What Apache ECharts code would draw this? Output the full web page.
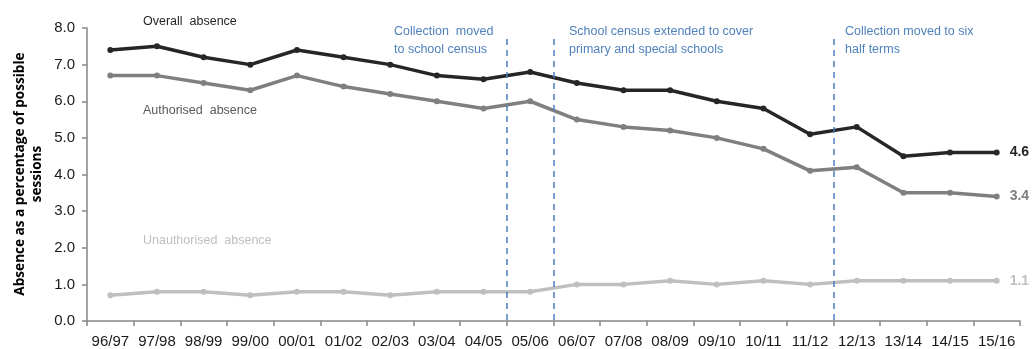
<!DOCTYPE html>
<html><head><meta charset="utf-8">
<script src="https://cdn.jsdelivr.net/npm/echarts@6/dist/echarts.min.js"></script>
<style>html,body{margin:0;padding:0;background:#fff}#c{width:1032px;height:349px}</style>
</head><body><div id="c"></div>
<script>
const categories = ['96/97','97/98','98/99','99/00','00/01','01/02','02/03','03/04','04/05','05/06','06/07','07/08','08/09','09/10','10/11','11/12','12/13','13/14','14/15','15/16'];
const overall = [7.4,7.5,7.2,7.0,7.4,7.2,7.0,6.7,6.6,6.8,6.5,6.3,6.3,6.0,5.8,5.1,5.3,4.5,4.6,4.6];
const authorised = [6.7,6.7,6.5,6.3,6.7,6.4,6.2,6.0,5.8,6.0,5.5,5.3,5.2,5.0,4.7,4.1,4.2,3.5,3.5,3.4];
const unauthorised = [0.7,0.8,0.8,0.7,0.8,0.8,0.7,0.8,0.8,0.8,1.0,1.0,1.1,1.0,1.1,1.0,1.1,1.1,1.1,1.1];
const breakPositions = [9,10,16];
const breakTop = 7.7;

const chart = echarts.init(document.getElementById('c'));
const FONT = 'Liberation Sans';
function mkSeries(name, data, color, labelColor){
  return {
    name, type:'line', data, color,
    symbol:'circle', symbolSize:6,
    lineStyle:{width:3.5,color},
    itemStyle:{color},
    z:3,
    label:{show:true, position:'right', distance:10, fontFamily:FONT, fontSize:14, fontWeight:'bold', color:labelColor,
      formatter:p => p.dataIndex === data.length-1 ? p.value.toFixed(1) : ''}
  };
}
chart.setOption({
  animation:false,
  grid:{left:87, right:12, top:28, bottom:27, containLabel:false},
  xAxis:[{
    type:'category', data:categories, boundaryGap:true,
    axisLine:{lineStyle:{color:'#868686',width:1.5}},
    axisTick:{show:true, length:5, alignWithLabel:false, lineStyle:{color:'#868686',width:1.5}},
    axisLabel:{fontFamily:FONT, fontSize:15, color:'#1a1a1a', margin:13, interval:0}
  },{
    type:'value', min:0, max:20, show:false
  }],
  yAxis:{
    type:'value', min:0, max:8, interval:1,
    axisLine:{show:true, lineStyle:{color:'#868686',width:1.5}},
    axisTick:{show:true, length:5, lineStyle:{color:'#868686',width:1.5}},
    splitLine:{show:false},
    axisLabel:{fontFamily:FONT, fontSize:15, color:'#1a1a1a', margin:12, formatter:v=>v.toFixed(1)}
  },
  series:[
    mkSeries('Overall absence', overall, '#262626', '#262626'),
    mkSeries('Authorised absence', authorised, '#7f7f7f', '#7f7f7f'),
    mkSeries('Unauthorised absence', unauthorised, '#bfbfbf', '#bfbfbf'),
    {
      type:'line', xAxisIndex:1, data:[], silent:true,
      markLine:{
        symbol:'none', silent:true, label:{show:false},
        lineStyle:{type:[6,5], color:'#4a7ebb', width:1.5},
        data: breakPositions.map(p => [{coord:[p,breakTop]},{coord:[p,0]}])
      }
    }
  ],
  graphic:[
    {type:'text', left:143, top:15, style:{text:'Overall  absence', fontFamily:FONT, fontSize:12.5, fill:'#262626'}},
    {type:'text', left:143, top:104, style:{text:'Authorised  absence', fontFamily:FONT, fontSize:12.5, fill:'#595959'}},
    {type:'text', left:143, top:234, style:{text:'Unauthorised  absence', fontFamily:FONT, fontSize:12.5, fill:'#bfbfbf'}},
    {type:'text', left:394, top:23, style:{text:'Collection  moved\nto school census', fontFamily:FONT, fontSize:12.5, lineHeight:18, fill:'#4f81bd'}},
    {type:'text', left:569, top:23, style:{text:'School census extended to cover\nprimary and special schools', fontFamily:FONT, fontSize:12.5, lineHeight:18, fill:'#4f81bd'}},
    {type:'text', left:845, top:23, style:{text:'Collection moved to six\nhalf terms', fontFamily:FONT, fontSize:12.5, lineHeight:18, fill:'#4f81bd'}},
    {type:'text', x:29, y:174, rotation:Math.PI/2, style:{text:'Absence as a percentage of possible\nsessions', fontFamily:'Open Sans', fontSize:13.6, fontWeight:'bold', lineHeight:17, fill:'#000', align:'center', verticalAlign:'middle'}}
  ]
});
</script></body></html>
